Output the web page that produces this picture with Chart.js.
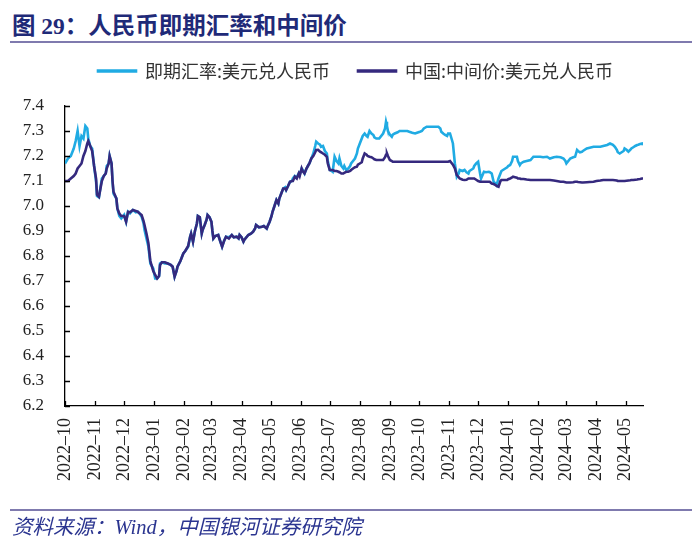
<!DOCTYPE html>
<html>
<head>
<meta charset="utf-8">
<script src="https://cdn.jsdelivr.net/npm/chart.js@4.4.1/dist/chart.umd.min.js"></script>
<style>
  body { margin: 0; background: #fff; }
  #wrap { position: relative; width: 700px; height: 542px; overflow: hidden; }
  #title {
    position: absolute; left: 12px; top: 7px;
    font: bold 23.5px "Liberation Serif", "Noto Sans CJK SC", sans-serif;
    color: #1f2a78; white-space: nowrap;
  }
  .rule { position: absolute; left: 10px; width: 682px; height: 2px; background: #7f7aae; }
  #source {
    position: absolute; left: 12px; top: 510px;
    font: italic 20.5px "Liberation Serif", "Noto Sans CJK SC", serif;
    color: #2b3590; white-space: nowrap;
  }
  canvas { position: absolute; left: 0; top: 0; }
</style>
</head>
<body>
<div id="wrap">
  <div id="title">图 29：人民币即期汇率和中间价</div>
  <div class="rule" style="top:41px"></div>
  <canvas id="fxChart" width="700" height="542"></canvas>
  <div class="rule" style="top:509px"></div>
  <div id="source">资料来源：Wind，中国银河证券研究院</div>
</div>
<script>
// series names
const spotName = "即期汇率:美元兑人民币";
const midName = "中国:中间价:美元兑人民币";

// observation dates
const dates = [
  "2022-10-01", "2022-10-04", "2022-10-07", "2022-10-10", "2022-10-12", "2022-10-14", "2022-10-16", "2022-10-18", "2022-10-20", "2022-10-22",
  "2022-10-24", "2022-10-25", "2022-10-27", "2022-10-29", "2022-10-31", "2022-11-02", "2022-11-03", "2022-11-05", "2022-11-08", "2022-11-10",
  "2022-11-12", "2022-11-13", "2022-11-15", "2022-11-16", "2022-11-18", "2022-11-19", "2022-11-20", "2022-11-23", "2022-11-24", "2022-11-26",
  "2022-11-28", "2022-11-30", "2022-12-01", "2022-12-03", "2022-12-05", "2022-12-07", "2022-12-10", "2022-12-13", "2022-12-15", "2022-12-17",
  "2022-12-19", "2022-12-21", "2022-12-22", "2022-12-24", "2022-12-26", "2022-12-28", "2022-12-31", "2023-01-02", "2023-01-04", "2023-01-06",
  "2023-01-07", "2023-01-09", "2023-01-12", "2023-01-15", "2023-01-18", "2023-01-20", "2023-01-22", "2023-01-24", "2023-01-25", "2023-01-28",
  "2023-01-31", "2023-02-02", "2023-02-05", "2023-02-07", "2023-02-08", "2023-02-10", "2023-02-12", "2023-02-14", "2023-02-15", "2023-02-17",
  "2023-02-19", "2023-02-20", "2023-02-22", "2023-02-24", "2023-02-25", "2023-02-27", "2023-03-01", "2023-03-02", "2023-03-03", "2023-03-05",
  "2023-03-08", "2023-03-10", "2023-03-12", "2023-03-14", "2023-03-16", "2023-03-19", "2023-03-22", "2023-03-24", "2023-03-27", "2023-03-29",
  "2023-03-30", "2023-04-01", "2023-04-03", "2023-04-04", "2023-04-08", "2023-04-11", "2023-04-13", "2023-04-15", "2023-04-16", "2023-04-19",
  "2023-04-22", "2023-04-24", "2023-04-27", "2023-04-28", "2023-04-30", "2023-05-02", "2023-05-03", "2023-05-05", "2023-05-07", "2023-05-09",
  "2023-05-10", "2023-05-12", "2023-05-14", "2023-05-16", "2023-05-17", "2023-05-19", "2023-05-21", "2023-05-23", "2023-05-24", "2023-05-26",
  "2023-05-28", "2023-05-30", "2023-05-31", "2023-06-02", "2023-06-03", "2023-06-05", "2023-06-07", "2023-06-09", "2023-06-10", "2023-06-12",
  "2023-06-14", "2023-06-16", "2023-06-17", "2023-06-19", "2023-06-21", "2023-06-22", "2023-06-24", "2023-06-26", "2023-06-28", "2023-06-29",
  "2023-07-01", "2023-07-03", "2023-07-04", "2023-07-06", "2023-07-08", "2023-07-10", "2023-07-11", "2023-07-13", "2023-07-15", "2023-07-16",
  "2023-07-18", "2023-07-20", "2023-07-22", "2023-07-23", "2023-07-25", "2023-07-27", "2023-07-29", "2023-07-30", "2023-08-01", "2023-08-03",
  "2023-08-04", "2023-08-06", "2023-08-08", "2023-08-09", "2023-08-11", "2023-08-13", "2023-08-15", "2023-08-16", "2023-08-18", "2023-08-21",
  "2023-08-25", "2023-08-27", "2023-08-28", "2023-08-29", "2023-08-30", "2023-09-01", "2023-09-03", "2023-09-04", "2023-09-06", "2023-09-09",
  "2023-09-11", "2023-09-14", "2023-09-16", "2023-09-19", "2023-09-21", "2023-09-24", "2023-09-27", "2023-09-29", "2023-10-02", "2023-10-04",
  "2023-10-06", "2023-10-09", "2023-10-12", "2023-10-16", "2023-10-18", "2023-10-21", "2023-10-23", "2023-10-24", "2023-10-26", "2023-10-28",
  "2023-10-30", "2023-10-31", "2023-11-02", "2023-11-04", "2023-11-05", "2023-11-07", "2023-11-09", "2023-11-11", "2023-11-12", "2023-11-15",
  "2023-11-17", "2023-11-19", "2023-11-21", "2023-11-22", "2023-11-24", "2023-11-26", "2023-11-27", "2023-11-29", "2023-12-01", "2023-12-03",
  "2023-12-04", "2023-12-07", "2023-12-09", "2023-12-12", "2023-12-13", "2023-12-15", "2023-12-17", "2023-12-19", "2023-12-20", "2023-12-22",
  "2023-12-24", "2023-12-25", "2023-12-27", "2023-12-29", "2023-12-31", "2024-01-01", "2024-01-03", "2024-01-05", "2024-01-06", "2024-01-08",
  "2024-01-10", "2024-01-11", "2024-01-13", "2024-01-14", "2024-01-17", "2024-01-20", "2024-01-24", "2024-01-27", "2024-01-31", "2024-02-03",
  "2024-02-06", "2024-02-10", "2024-02-13", "2024-02-17", "2024-02-20", "2024-02-24", "2024-02-27", "2024-02-29", "2024-03-01", "2024-03-03",
  "2024-03-05", "2024-03-08", "2024-03-10", "2024-03-12", "2024-03-13", "2024-03-15", "2024-03-17", "2024-03-18", "2024-03-22", "2024-03-25",
  "2024-03-29", "2024-04-01", "2024-04-05", "2024-04-08", "2024-04-12", "2024-04-15", "2024-04-18", "2024-04-20", "2024-04-22", "2024-04-23",
  "2024-04-25", "2024-04-27", "2024-04-29", "2024-04-30", "2024-05-02", "2024-05-04", "2024-05-06", "2024-05-07", "2024-05-09", "2024-05-11",
  "2024-05-13", "2024-05-14", "2024-05-16", "2024-05-18", "2024-05-19"
];

// 即期汇率
const spot = [
  7.17, 7.19, 7.20, 7.23, 7.26, 7.30, 7.24, 7.28, 7.27, 7.32,
  7.31, 7.27, 7.24, 7.23, 7.16, 7.10, 7.04, 7.035, 7.11, 7.12,
  7.13, 7.16, 7.17, 7.20, 7.17, 7.10, 7.05, 7.03, 6.99, 6.96,
  6.95, 6.96, 6.965, 6.937, 6.977, 6.97, 6.984, 6.975, 6.977, 6.97,
  6.957, 6.93, 6.904, 6.87, 6.837, 6.77, 6.75, 6.71, 6.71, 6.72,
  6.77, 6.775, 6.77, 6.77, 6.765, 6.757, 6.717, 6.74, 6.757, 6.78,
  6.81, 6.82, 6.837, 6.877, 6.89, 6.857, 6.90, 6.93, 6.96, 6.955,
  6.89, 6.905, 6.924, 6.945, 6.964, 6.955, 6.937, 6.90, 6.87, 6.88,
  6.884, 6.86, 6.837, 6.86, 6.877, 6.875, 6.884, 6.875, 6.877, 6.87,
  6.884, 6.875, 6.857, 6.865, 6.884, 6.89, 6.897, 6.91, 6.924, 6.915,
  6.917, 6.92, 6.91, 6.92, 6.937, 6.96, 6.977, 7.00, 7.024, 7.01,
  7.03, 7.05, 7.07, 7.075, 7.064, 7.08, 7.097, 7.10, 7.11, 7.12,
  7.115, 7.13, 7.125, 7.15, 7.145, 7.13, 7.15, 7.164, 7.17, 7.19,
  7.21, 7.24, 7.257, 7.25, 7.245, 7.237, 7.24, 7.22, 7.21, 7.18,
  7.144, 7.14, 7.137, 7.197, 7.18, 7.17, 7.19, 7.16, 7.15, 7.16,
  7.144, 7.15, 7.16, 7.17, 7.18, 7.19, 7.21, 7.23, 7.25, 7.27,
  7.28, 7.29, 7.28, 7.277, 7.30, 7.29, 7.284, 7.275, 7.27, 7.27,
  7.29, 7.31, 7.337, 7.32, 7.30, 7.285, 7.277, 7.285, 7.29, 7.295,
  7.30, 7.30, 7.30, 7.30, 7.297, 7.293, 7.29, 7.293, 7.297, 7.30,
  7.31, 7.317, 7.317, 7.317, 7.317, 7.317, 7.31, 7.297, 7.29, 7.284,
  7.28, 7.29, 7.29, 7.264, 7.25, 7.17, 7.117, 7.13, 7.144, 7.14,
  7.144, 7.135, 7.13, 7.14, 7.145, 7.15, 7.16, 7.17, 7.177, 7.13,
  7.11, 7.137, 7.135, 7.137, 7.135, 7.13, 7.097, 7.09, 7.084, 7.11,
  7.13, 7.14, 7.145, 7.15, 7.155, 7.16, 7.164, 7.18, 7.197, 7.197,
  7.197, 7.18, 7.164, 7.17, 7.177, 7.18, 7.184, 7.197, 7.197, 7.197,
  7.195, 7.197, 7.19, 7.195, 7.197, 7.195, 7.19, 7.18, 7.17, 7.18,
  7.19, 7.195, 7.197, 7.224, 7.22, 7.215, 7.217, 7.22, 7.23, 7.233,
  7.237, 7.237, 7.237, 7.24, 7.244, 7.25, 7.245, 7.237, 7.225, 7.215,
  7.21, 7.215, 7.22, 7.23, 7.225, 7.217, 7.225, 7.23, 7.235, 7.24,
  7.244, 7.245, 7.248, 7.25, 7.244
];

// 中间价
const mid = [
  7.10, 7.10, 7.11, 7.12, 7.13, 7.15, 7.16, 7.17, 7.20, 7.22,
  7.25, 7.26, 7.24, 7.22, 7.16, 7.11, 7.045, 7.037, 7.10, 7.12,
  7.13, 7.15, 7.17, 7.20, 7.17, 7.10, 7.057, 7.03, 6.99, 6.97,
  6.96, 6.96, 6.96, 6.937, 6.977, 6.975, 6.984, 6.98, 6.977, 6.97,
  6.964, 6.94, 6.924, 6.89, 6.851, 6.78, 6.74, 6.724, 6.71, 6.72,
  6.764, 6.775, 6.775, 6.77, 6.765, 6.757, 6.717, 6.74, 6.757, 6.78,
  6.81, 6.82, 6.84, 6.877, 6.89, 6.857, 6.90, 6.93, 6.96, 6.955,
  6.89, 6.905, 6.924, 6.945, 6.964, 6.955, 6.937, 6.90, 6.87, 6.88,
  6.884, 6.86, 6.837, 6.86, 6.877, 6.87, 6.884, 6.875, 6.877, 6.87,
  6.884, 6.875, 6.857, 6.865, 6.884, 6.89, 6.897, 6.91, 6.924, 6.915,
  6.917, 6.92, 6.91, 6.92, 6.937, 6.96, 6.977, 7.00, 7.024, 7.01,
  7.03, 7.05, 7.07, 7.07, 7.064, 7.08, 7.097, 7.10, 7.10, 7.117,
  7.11, 7.13, 7.12, 7.15, 7.14, 7.13, 7.15, 7.164, 7.17, 7.19,
  7.20, 7.215, 7.224, 7.225, 7.217, 7.215, 7.21, 7.205, 7.197, 7.17,
  7.144, 7.144, 7.144, 7.14, 7.14, 7.137, 7.135, 7.13, 7.13, 7.133,
  7.137, 7.137, 7.14, 7.144, 7.15, 7.155, 7.157, 7.165, 7.17, 7.175,
  7.19, 7.21, 7.205, 7.20, 7.197, 7.195, 7.19, 7.187, 7.184, 7.184,
  7.184, 7.195, 7.205, 7.21, 7.20, 7.184, 7.18, 7.177, 7.177, 7.177,
  7.177, 7.177, 7.177, 7.177, 7.177, 7.177, 7.177, 7.177, 7.177, 7.177,
  7.177, 7.177, 7.177, 7.177, 7.177, 7.177, 7.177, 7.177, 7.177, 7.177,
  7.177, 7.177, 7.18, 7.17, 7.165, 7.15, 7.124, 7.115, 7.11, 7.105,
  7.104, 7.105, 7.11, 7.11, 7.11, 7.11, 7.11, 7.105, 7.10, 7.097,
  7.097, 7.097, 7.097, 7.097, 7.097, 7.09, 7.088, 7.084, 7.08, 7.077,
  7.10, 7.104, 7.104, 7.104, 7.104, 7.107, 7.11, 7.114, 7.117, 7.115,
  7.113, 7.11, 7.11, 7.108, 7.108, 7.106, 7.104, 7.104, 7.104, 7.104,
  7.104, 7.104, 7.104, 7.102, 7.10, 7.097, 7.097, 7.095, 7.094, 7.094,
  7.094, 7.095, 7.097, 7.097, 7.096, 7.095, 7.094, 7.094, 7.095, 7.096,
  7.097, 7.10, 7.102, 7.104, 7.104, 7.104, 7.104, 7.103, 7.102, 7.10,
  7.10, 7.10, 7.10, 7.10, 7.101, 7.102, 7.103, 7.104, 7.104, 7.105,
  7.106, 7.107, 7.108, 7.11, 7.11
];

// x axis tick labels (month starts)
const monthTicks = [
  "2022-10", "2022-11", "2022-12", "2023-01", "2023-02", "2023-03", "2023-04",
  "2023-05", "2023-06", "2023-07", "2023-08", "2023-09", "2023-10", "2023-11",
  "2023-12", "2024-01", "2024-02", "2024-03", "2024-04", "2024-05"
];

// y axis range
const yMin = 6.2;
const yMax = 7.4;
const yStep = 0.1;

const dayOf = (s) => (Date.parse(s) - Date.parse(dates[0])) / 864e5;

// ticks drawn inward, like the original
const innerTicks = {
  id: "innerTicks",
  afterDraw(chart) {
    const { ctx, chartArea: a, scales: { x, y } } = chart;
    ctx.save();
    ctx.strokeStyle = "#000";
    ctx.lineWidth = 1.3;
    ctx.beginPath();
    x.ticks.forEach((t) => {
      const px = Math.round(x.getPixelForValue(t.value)) + 0.5;
      ctx.moveTo(px, a.bottom);
      ctx.lineTo(px, a.bottom - 5);
    });
    y.ticks.forEach((t) => {
      const py = Math.round(y.getPixelForValue(t.value)) + 0.5;
      ctx.moveTo(a.left, py);
      ctx.lineTo(a.left + 5, py);
    });
    ctx.stroke();
    ctx.restore();
  },
};

// fixed legend height so the plot starts lower
const legendHeight = {
  id: "legendHeight",
  beforeInit(chart) {
    const fit = chart.legend.fit;
    chart.legend.fit = function () {
      fit.call(this);
      this.height = 72;
    };
  },
  afterLayout(chart) {
    chart.legend.left += 34;
    chart.legend.right += 34;
  },
};

const ctx = document.getElementById("fxChart").getContext("2d");

new Chart(ctx, {
  type: "line",
  data: {
    datasets: [
      {
        label: spotName,
        data: dates.map((d, i) => ({ x: dayOf(d), y: spot[i] })),
        borderColor: "#20abe3",
        backgroundColor: "#20abe3",
        borderWidth: 2.6,
        pointRadius: 0,
        tension: 0,
        order: 1,
      },
      {
        label: midName,
        data: dates.map((d, i) => ({ x: dayOf(d), y: mid[i] })),
        borderColor: "#35297e",
        backgroundColor: "#35297e",
        borderWidth: 2.6,
        pointRadius: 0,
        tension: 0,
        order: 0,
      },
    ],
  },
  options: {
    responsive: false,
    animation: false,
    layout: { padding: { top: 34, left: 0, right: 57, bottom: 0 } },
    plugins: {
      tooltip: { enabled: false },
      legend: {
        labels: {
          font: { family: "'Noto Sans CJK SC', sans-serif", size: 18 },
          color: "#333",
          boxWidth: 38,
          boxHeight: 1,
          padding: 28,
          sort: (a, b) => a.datasetIndex - b.datasetIndex,
        },
      },
    },
    scales: {
      x: {
        type: "linear",
        min: 0,
        max: dayOf(dates[dates.length - 1]),
        afterFit: (scale) => { scale.height = 136; },
        afterBuildTicks: (scale) => {
          scale.ticks = monthTicks.map((m) => ({ value: dayOf(m + "-01") }));
        },
        grid: { display: false, drawTicks: false },
        border: { color: "#000", width: 1.3 },
        ticks: {
          autoSkip: false,
          minRotation: 90,
          maxRotation: 90,
          padding: 12,
          color: "#222",
          font: { family: "'Liberation Serif', serif", size: 18 },
          callback: (v, i) => monthTicks[i].replace("-", "–"),
        },
      },
      y: {
        min: yMin,
        max: yMax,
        afterFit: (scale) => { scale.width = 65; },
        grid: { display: false, drawTicks: false },
        border: { color: "#000", width: 1.3 },
        ticks: {
          stepSize: yStep,
          padding: 21,
          color: "#222",
          font: { family: "'Liberation Serif', serif", size: 17 },
          callback: (v) => v.toFixed(1),
        },
      },
    },
  },
  plugins: [innerTicks, legendHeight],
});
</script>
</body>
</html>
